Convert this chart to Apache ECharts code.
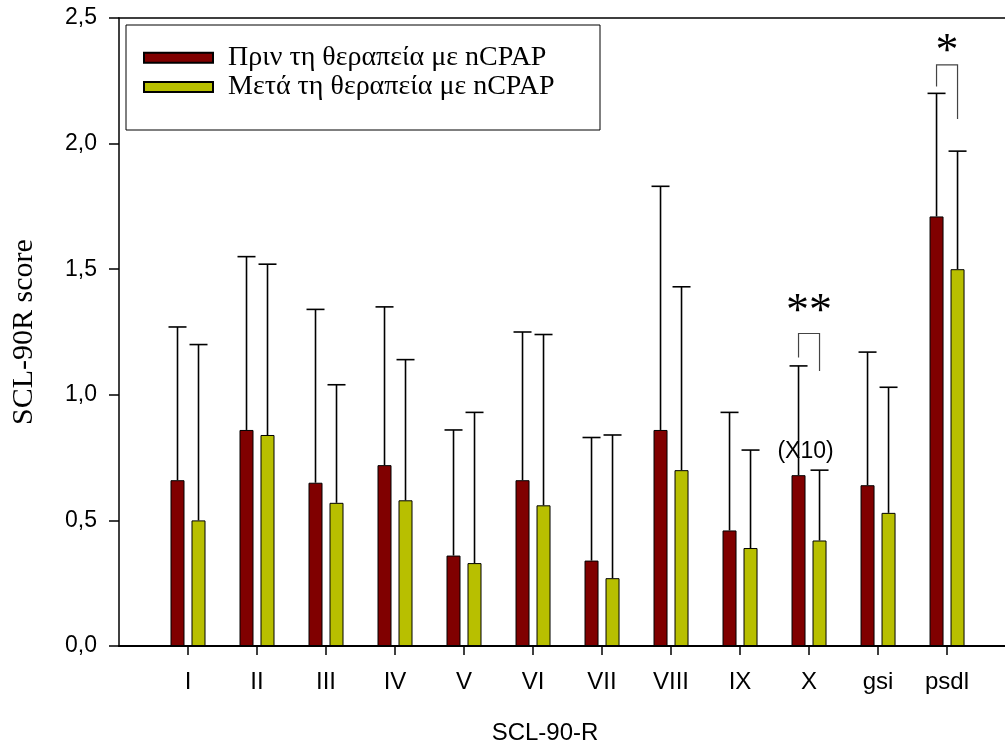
<!DOCTYPE html>
<html><head><meta charset="utf-8">
<script src="https://cdn.jsdelivr.net/npm/echarts@6/dist/echarts.min.js"></script>
<style>html,body{margin:0;padding:0;background:#fff}#c{width:1005px;height:752px}</style>
</head><body><div id="c"></div>
<script>
const categories = ['I','II','III','IV','V','VI','VII','VIII','IX','X','gsi','psdl'];
const beforeMean = [0.66,0.86,0.65,0.72,0.36,0.66,0.34,0.86,0.46,0.68,0.64,1.71];
const beforeSD   = [0.61,0.69,0.69,0.63,0.50,0.59,0.49,0.97,0.47,0.435,0.53,0.49];
const afterMean  = [0.50,0.84,0.57,0.58,0.33,0.56,0.27,0.70,0.39,0.42,0.53,1.50];
const afterSD    = [0.70,0.68,0.47,0.56,0.60,0.68,0.57,0.73,0.39,0.28,0.50,0.47];
const seriesNames = ['Πριν τη θεραπεία με nCPAP','Μετά τη θεραπεία με nCPAP'];
const yMin = 0, yMax = 2.5, yStep = 0.5;
const xMin = 0, xMax = 12.84;   // visible part of the category axis (cropped at right)
// significance brackets (value units)
const sigCategory = ['X','psdl'];
const sigLabel    = ['**','*'];
const sigTop      = [1.244, 2.313];
const sigLeftEnd  = [1.148, 2.227];
const sigRightEnd = [1.095, 2.098];
const sigLabelY   = [1.326, 2.361];
const noteText = '(X10)';
const noteCategory = 'X';
const noteY = 0.772;

const RED = '#800000', YEL = '#b8bf00';
const SANS = 'Liberation Sans', SERIF = 'Liberation Serif';
const BAR_OFF = 10.5;
const pos = categories.map((c, i) => i + 1);
const tickValues = pos.slice();

function errSeries(name, means, sds, dx) {
  return {
    type: 'custom', name: name + ' SD', coordinateSystem: 'cartesian2d', z: 3,
    data: means.map((m, i) => [pos[i], m, sds[i]]),
    encode: { x: 0, y: 1 },
    renderItem: function (params, api) {
      const x = api.value(0), m = api.value(1), s = api.value(2);
      const p0 = api.coord([x, m]), p1 = api.coord([x, m + s]);
      const cx = p0[0] + dx;
      return { type: 'group', children: [
        { type: 'line', shape: { x1: cx, y1: p0[1], x2: cx, y2: p1[1] }, style: { stroke: '#000', lineWidth: 1.6 } },
        { type: 'line', shape: { x1: cx - 9, y1: p1[1], x2: cx + 9, y2: p1[1] }, style: { stroke: '#000', lineWidth: 1.6 } }
      ]};
    }
  };
}

const chart = echarts.init(document.getElementById('c'), null, { renderer: 'canvas' });
chart.setOption({
  backgroundColor: '#fff',
  animation: false,
  grid: { left: 119, top: 18, right: 0, height: 628, containLabel: false },
  legend: {
    data: seriesNames, orient: 'vertical', left: 143, top: 43.7, padding: 0,
    itemWidth: 69, itemHeight: 10, itemGap: 1.3, icon: 'rect',
    textStyle: { fontFamily: SERIF, fontSize: 28, color: '#000', lineHeight: 26, padding: [0, 0, 0, 10] }
  },
  graphic: [{ type: 'rect', shape: { x: 126, y: 25, width: 474, height: 105 }, style: { fill: 'none', stroke: '#000', lineWidth: 1 }, z: 10 }],
  xAxis: [{
    type: 'value', min: xMin, max: xMax,
    name: 'SCL-90-R', nameLocation: 'middle', nameGap: 75,
    nameTextStyle: { fontFamily: SANS, fontSize: 24, color: '#000', padding: [0, 34, 0, 0] },
    axisLine: { show: true, onZero: false, lineStyle: { color: '#000', width: 2 } },
    axisTick: { show: true, customValues: tickValues, length: 9, lineStyle: { color: '#000', width: 1.5 } },
    axisLabel: { customValues: tickValues, margin: 24, fontFamily: SANS, fontSize: 24, color: '#000',
      formatter: v => categories[Math.round(v) - 1] || '' },
    splitLine: { show: false }
  }, {
    type: 'value', position: 'top', min: xMin, max: xMax,
    axisLine: { show: true, onZero: false, lineStyle: { color: '#000', width: 1.5 } },
    axisTick: { show: false }, axisLabel: { show: false }, splitLine: { show: false }
  }],
  yAxis: {
    type: 'value', min: yMin, max: yMax, interval: yStep,
    name: 'SCL-90R score', nameLocation: 'middle', nameGap: 80,
    nameTextStyle: { fontFamily: SERIF, fontSize: 30, color: '#000' },
    axisLine: { show: true, onZero: false, lineStyle: { color: '#000', width: 1.5 } },
    axisTick: { show: true, inside: false, length: 10, lineStyle: { color: '#000', width: 1.5 } },
    axisLabel: { margin: 22, fontFamily: SANS, fontSize: 23, color: '#000',
      formatter: v => v.toFixed(1).replace('.', ',') },
    splitLine: { show: false }
  },
  series: [
    { type: 'bar', name: seriesNames[0], data: beforeMean.map((v, i) => [pos[i], v]),
      barWidth: 14, barGap: '50%', itemStyle: { color: RED, borderColor: '#000', borderWidth: 1 } },
    { type: 'bar', name: seriesNames[1], data: afterMean.map((v, i) => [pos[i], v]),
      barWidth: 14, barGap: '50%', itemStyle: { color: YEL, borderColor: '#000', borderWidth: 1 } },
    errSeries(seriesNames[0], beforeMean, beforeSD, -BAR_OFF),
    errSeries(seriesNames[1], afterMean, afterSD, BAR_OFF),
    {
      type: 'custom', name: 'sig', coordinateSystem: 'cartesian2d', z: 4,
      data: sigCategory.map((c, i) => [categories.indexOf(c) + 1, sigTop[i], sigLeftEnd[i], sigRightEnd[i], sigLabelY[i]]),
      encode: { x: 0, y: 1 },
      renderItem: function (params, api) {
        const x = api.value(0);
        const top = api.coord([x, api.value(1)]);
        const lb = api.coord([x, api.value(2)]);
        const rb = api.coord([x, api.value(3)]);
        const ly = api.coord([x, api.value(4)]);
        const xl = top[0] - BAR_OFF, xr = top[0] + BAR_OFF;
        return { type: 'group', children: [
          { type: 'polyline', shape: { points: [[xl, lb[1]], [xl, top[1]], [xr, top[1]], [xr, rb[1]]] },
            style: { stroke: '#444', lineWidth: 1.2, fill: 'none' } },
          { type: 'text', style: { text: sigLabel[params.dataIndex], x: top[0], y: ly[1],
            align: 'center', verticalAlign: 'middle', font: '46px "' + SERIF + '"', fill: '#000' } }
        ]};
      }
    },
    {
      type: 'custom', name: 'note', coordinateSystem: 'cartesian2d', z: 4,
      data: [[categories.indexOf(noteCategory) + 1, noteY]],
      encode: { x: 0, y: 1 },
      renderItem: function (params, api) {
        const p = api.coord([api.value(0), api.value(1)]);
        return { type: 'text', style: { text: noteText, x: p[0] - 3.5, y: p[1], align: 'center', verticalAlign: 'middle',
          font: '23px "' + SANS + '"', fill: '#000' } };
      }
    }
  ]
});
</script>
</body></html>
